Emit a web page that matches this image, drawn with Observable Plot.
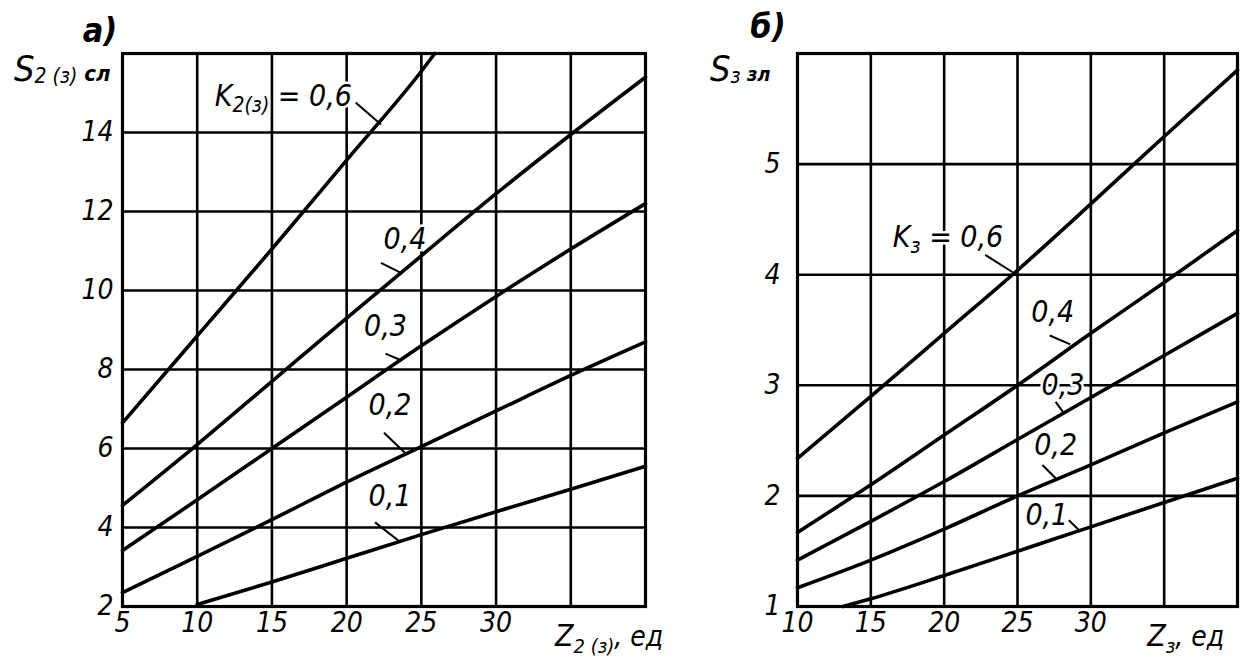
<!DOCTYPE html>
<html><head><meta charset="utf-8">
<script src="https://cdn.jsdelivr.net/npm/d3@7"></script>
<script src="https://cdn.jsdelivr.net/npm/@observablehq/plot@0.6"></script>
<style>
body{margin:0;background:#fff;}
#row{display:flex;width:1250px;height:657px;overflow:hidden;}
#row svg{display:block;flex:none;}
</style></head><body><div id="row"></div>
<script>
const FONT = "'DejaVu Sans Condensed','Liberation Sans Narrow','DejaVu Sans',sans-serif";

// ---- panel а) ----
const aXTicks = [5, 10, 15, 20, 25, 30];
const aYTicks = [2, 4, 6, 8, 10, 12, 14];
const aXGrid = [5, 10, 15, 20, 25, 30, 35, 40];
const aYGrid = [2, 4, 6, 8, 10, 12, 14, 16];
const aZ06 = [5, 10, 15, 20, 25, 25.9];
const aS06 = [6.65, 8.85, 11.05, 13.3, 15.55, 16];
const aZ = [5, 10, 15, 20, 25, 30, 35, 40];
const aS04 = [4.56, 6.1, 7.7, 9.3, 10.88, 12.45, 13.95, 15.4];
const aS03 = [3.42, 4.7, 6.0, 7.3, 8.6, 9.85, 11.05, 12.2];
const aS02 = [2.35, 3.27, 4.2, 5.15, 6.05, 6.95, 7.85, 8.7];
const aZ01 = [10, 15, 20, 25, 30, 35, 40];
const aS01 = [2.05, 2.62, 3.22, 3.82, 4.4, 4.97, 5.55];
const aLabText = ["0,4", "0,3", "0,2", "0,1"];
const aLabX = [23.9, 22.6, 22.9, 22.9];
const aLabY = [11.3, 9.1, 7.1, 4.8];
const aLeadX1 = [20.6, 22.3, 22.6, 22.5, 21.9];
const aLeadY1 = [14.76, 10.7, 8.4, 6.4, 4.13];
const aLeadX2 = [22.3, 23.6, 23.6, 23.9, 23.5];
const aLeadY2 = [14.2, 10.45, 8.24, 5.89, 3.66];
const aKLabel = {x: 15.8, y: 14.9};

// ---- panel б) ----
const bXTicks = [10, 15, 20, 25, 30];
const bYTicks = [1, 2, 3, 4, 5];
const bXGrid = [10, 15, 20, 25, 30, 35, 40];
const bYGrid = [1, 2, 3, 4, 5, 6];
const bZ = [10, 15, 20, 25, 30, 35, 40];
const bS06 = [2.34, 2.9, 3.47, 4.04, 4.64, 5.25, 5.85];
const bS04 = [1.67, 2.1, 2.55, 3.0, 3.47, 3.93, 4.4];
const bS03 = [1.42, 1.77, 2.13, 2.51, 2.89, 3.27, 3.65];
const bS02 = [1.17, 1.42, 1.7, 2.0, 2.28, 2.57, 2.85];
const bZ01 = [13.1, 15, 20, 25, 30, 35, 40];
const bS01 = [1.0, 1.07, 1.28, 1.5, 1.72, 1.94, 2.16];
const bLabText = ["0,4", "0,3", "0,2", "0,1"];
const bLabX = [27.4, 28.1, 27.6, 27.0];
const bLabY = [3.66, 3.0, 2.46, 1.82];
const bLeadX1 = [22.8, 27.2, 27.6, 26.7, 28.5];
const bLeadY1 = [4.18, 3.45, 2.85, 2.28, 1.78];
const bLeadX2 = [24.7, 28.6, 28.1, 27.6, 29.2];
const bLeadY2 = [4.02, 3.37, 2.76, 2.16, 1.69];
const bKLabel = {x: 20.3, y: 4.34};

const LINE = {stroke: "black", strokeWidth: 3.6, curve: "monotone-x"};
const GRID = {stroke: "black", strokeOpacity: 1, strokeWidth: 2.6};

function panel(o) {
  return Plot.plot({
    width: o.width, height: 657,
    marginLeft: o.ml, marginRight: o.mr, marginTop: 53, marginBottom: 51,
    x: {domain: o.xd}, y: {domain: o.yd},
    style: {fontFamily: FONT, fontStyle: "italic", fontSize: "28px", color: "black", background: "white", overflow: "visible"},
    marks: [
      Plot.gridX(o.xg, GRID),
      Plot.gridY(o.yg, GRID),
      Plot.frame({stroke: "black", strokeWidth: 3.2}),
      Plot.axisX(o.xt, {tickSize: 0, tickPadding: 6, fontSize: 28, label: null, tickFormat: d => String(d)}),
      Plot.axisY(o.yt, {tickSize: 0, tickPadding: o.yp, fontSize: 28, label: null, tickFormat: d => String(d)}),
      ...o.series.map(([xs, ys]) => Plot.line(xs, {x: xs, y: ys, ...LINE})),
      Plot.link(o.lx1, {x1: o.lx1, y1: o.ly1, x2: o.lx2, y2: o.ly2, stroke: "black", strokeWidth: 2}),
      Plot.text(o.lt, {x: o.tx, y: o.ty, text: o.lt, fontSize: 30, fill: "black", stroke: "white", strokeWidth: 5, paintOrder: "stroke"})
    ]
  });
}

function rich(svg, x, y, parts, anchor = "start") {
  const t = d3.select(svg).append("text")
    .attr("x", x).attr("y", y).attr("text-anchor", anchor)
    .attr("font-family", FONT).attr("font-style", "italic").attr("fill", "black");
  for (const p of parts) {
    const ts = t.append("tspan").text(p.t).attr("font-size", p.s);
    if (p.dy) ts.attr("dy", p.dy);
    if (p.w) ts.attr("font-weight", p.w);
  }
  return t;
}
function halo(sel) {
  sel.attr("stroke", "white").attr("stroke-width", 5).attr("paint-order", "stroke");
}

const row = document.getElementById("row");

const figA = panel({
  width: 680, ml: 122, mr: 35, xd: [5, 40], yd: [2, 16],
  xg: aXGrid, yg: aYGrid, xt: aXTicks, yt: aYTicks, yp: 9,
  series: [[aZ06, aS06], [aZ, aS04], [aZ, aS03], [aZ, aS02], [aZ01, aS01]],
  lx1: aLeadX1, ly1: aLeadY1, lx2: aLeadX2, ly2: aLeadY2,
  lt: aLabText, tx: aLabX, ty: aLabY
});
row.appendChild(figA);
{
  const sx = figA.scale("x"), sy = figA.scale("y");
  halo(rich(figA, sx.apply(aKLabel.x), sy.apply(aKLabel.y) + 10,
    [{t: "K", s: 30}, {t: "2(з)", s: 21, dy: 6}, {t: " = 0,6", s: 30, dy: -6}], "middle"));
  rich(figA, sx.apply(37.6), 646, [{t: "Z", s: 30}, {t: "2 (з)", s: 20, dy: 7}, {t: ", ед", s: 28, dy: -7}], "middle");
  rich(figA, 14, 81, [{t: "S", s: 36}, {t: "2 (з)", s: 21, dy: 2}, {t: " сл", s: 22, w: "bold", dy: -2}]);
  rich(figA, 100, 42, [{t: "а)", s: 34, w: "bold"}], "middle");
}

const figB = panel({
  width: 570, ml: 117, mr: 13, xd: [10, 40], yd: [1, 6],
  xg: bXGrid, yg: bYGrid, xt: bXTicks, yt: bYTicks, yp: 17,
  series: [[bZ, bS06], [bZ, bS04], [bZ, bS03], [bZ, bS02], [bZ01, bS01]],
  lx1: bLeadX1, ly1: bLeadY1, lx2: bLeadX2, ly2: bLeadY2,
  lt: bLabText, tx: bLabX, ty: bLabY
});
row.appendChild(figB);
{
  const sx = figB.scale("x"), sy = figB.scale("y");
  halo(rich(figB, sx.apply(bKLabel.x), sy.apply(bKLabel.y) + 10,
    [{t: "K", s: 30}, {t: "з", s: 21, dy: 6}, {t: " = 0,6", s: 30, dy: -6}], "middle"));
  rich(figB, sx.apply(36.5), 646, [{t: "Z", s: 30}, {t: "з", s: 20, dy: 7}, {t: ", ед", s: 28, dy: -7}], "middle");
  rich(figB, 30, 81, [{t: "S", s: 36}, {t: "з", s: 21, dy: 2}, {t: " зл", s: 20, w: "bold", dy: -2}]);
  rich(figB, 88, 38, [{t: "б)", s: 34, w: "bold"}], "middle");
}
</script></body></html>
